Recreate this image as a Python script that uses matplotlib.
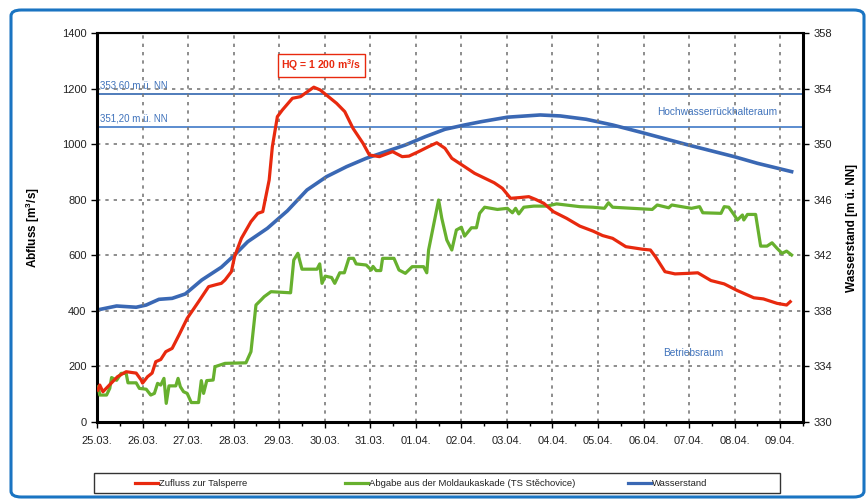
import numpy as np
import matplotlib
matplotlib.use("Agg")
import matplotlib.pyplot as plt
from matplotlib.patches import FancyBboxPatch, Rectangle
from matplotlib.lines import Line2D

plt.rcParams['font.family'] = ['Liberation Sans', 'DejaVu Sans']

#--- DATA (days after 25.03. 00:00) -------------------------------------------+

date_labels = ["25.03.", "26.03.", "27.03.", "28.03.", "29.03.", "30.03.",
               "31.03.", "01.04.", "02.04.", "03.04.", "04.04.", "05.04.",
               "06.04.", "07.04.", "08.04.", "09.04."]

zufluss_t = [0.02, 0.06, 0.13, 0.45, 0.64, 0.86, 0.97, 1.00, 1.11, 1.21, 1.29,
             1.40, 1.51, 1.65, 1.80, 1.98, 2.23, 2.45, 2.63, 2.73, 2.81, 2.95,
             3.02, 3.17, 3.38, 3.53, 3.64, 3.78, 3.85, 3.96, 4.07, 4.29, 4.47,
             4.57, 4.76, 4.90, 5.08, 5.26, 5.44, 5.62, 5.84, 5.98, 6.20, 6.49,
             6.70, 6.85, 7.06, 7.28, 7.46, 7.64, 7.79, 8.07, 8.29, 8.72, 8.90,
             9.08, 9.30, 9.48, 9.63, 9.81, 10.02, 10.31, 10.60, 10.89, 11.10,
             11.32, 11.61, 11.97, 12.15, 12.26, 12.47, 12.69, 12.98, 13.19,
             13.48, 13.77, 14.06, 14.42, 14.63, 14.93, 15.14, 15.22]
zufluss_q = [115, 133, 109, 163, 181, 176, 151, 140, 163, 176, 217,
             225, 253, 265, 313, 373, 433, 487, 495, 499, 511, 541,
             595, 661, 721, 751, 757, 871, 991, 1099, 1123, 1165, 1171,
             1183, 1205, 1195, 1171, 1147, 1117, 1057, 1003, 961, 955, 973,
             955, 957, 973, 991, 1005, 985, 949, 919, 895, 861, 841,
             805, 808, 811, 801, 787, 757, 733, 705, 687, 671,
             661, 631, 622, 619, 595, 541, 533, 535, 537,
             509, 497, 473, 447, 443, 427, 421, 433]

abgabe_t = [0.03, 0.06, 0.21, 0.28, 0.32, 0.43, 0.53, 0.64, 0.68, 0.86, 0.93,
            1.08, 1.18, 1.26, 1.33, 1.40, 1.47, 1.52, 1.58, 1.73, 1.78, 1.83,
            1.90, 1.98, 2.07, 2.23, 2.29, 2.34, 2.41, 2.55, 2.59, 2.81, 3.27,
            3.38, 3.49, 3.60, 3.67, 3.82, 4.25, 4.32, 4.41, 4.50, 4.83, 4.89,
            4.94, 5.01, 5.15, 5.22, 5.33, 5.43, 5.53, 5.63, 5.69, 5.91, 6.02,
            6.06, 6.13, 6.23, 6.27, 6.52, 6.63, 6.77, 6.92, 7.17, 7.24, 7.28,
            7.39, 7.50, 7.57, 7.68, 7.79, 7.89, 8.00, 8.07, 8.22, 8.33, 8.40,
            8.51, 8.79, 9.01, 9.12, 9.19, 9.26, 9.37, 9.59, 9.88, 10.09, 10.60,
            10.89, 11.14, 11.23, 11.32, 12.19, 12.30, 12.55, 12.62, 13.05,
            13.23, 13.30, 13.70, 13.77, 13.87, 13.99, 14.06, 14.17, 14.20,
            14.28, 14.46, 14.57, 14.71, 14.82, 14.93, 15.04, 15.14, 15.25]
abgabe_q = [127, 97, 97, 121, 160, 150, 175, 175, 141, 141, 121,
            118, 97, 103, 139, 133, 157, 67, 130, 130, 157, 127,
            109, 103, 70, 70, 149, 103, 149, 151, 199, 211, 213,
            253, 421, 439, 451, 469, 465, 583, 607, 550, 550, 569,
            499, 525, 520, 499, 537, 537, 589, 589, 569, 565, 547,
            560, 545, 545, 589, 589, 547, 535, 559, 559, 537, 619,
            709, 799, 733, 655, 619, 691, 701, 669, 699, 699, 751,
            773, 765, 769, 753, 769, 749, 773, 777, 777, 785, 775,
            773, 769, 789, 773, 765, 781, 771, 781, 769,
            775, 753, 751, 775, 773, 745, 727, 745, 727,
            747, 747, 633, 633, 645, 625, 607, 615, 601]

wasser_t = [0.0, 0.43, 0.86, 1.08, 1.36, 1.65, 1.94, 2.30, 2.73, 3.02, 3.31,
            3.74, 4.18, 4.61, 5.04, 5.48, 5.91, 6.34, 6.77, 7.21, 7.64, 8.07,
            8.44, 9.01, 9.73, 10.17, 10.74, 11.32, 11.97, 12.98, 13.99, 14.50,
            15.25]
wasser_h = [338.06, 338.35, 338.26, 338.42, 338.83, 338.90, 339.22, 340.22,
            341.14, 342.02, 342.98, 343.94, 345.20, 346.70, 347.66, 348.38,
            348.98, 349.46, 349.94, 350.54, 351.07, 351.38, 351.62, 351.94,
            352.10, 352.03, 351.79, 351.38, 350.83, 349.94, 349.10, 348.62,
            348.02]

stauziel_oben = 353.60
stauziel_unten = 351.20

#--- COLOURS ------------------------------------------------------------------+

c_red = '#e8290e'
c_green = '#67b02e'
c_blue = '#3a68b4'
c_text_blue = '#3f72bb'

#--- PLOT ---------------------------------------------------------------------+

fig = plt.figure(figsize=(8.66, 5.0), dpi=100)
ax = fig.add_axes([97/866, 78/500, 706/866, 389/500])
ax2 = ax.twinx()
ax.set_zorder(ax2.get_zorder() + 1)
ax.patch.set_visible(False)

ax.plot(zufluss_t, zufluss_q, color=c_red, lw=2.3, zorder=4)
ax.plot(abgabe_t, abgabe_q, color=c_green, lw=2.3, zorder=3)
ax2.plot(wasser_t, wasser_h, color=c_blue, lw=2.6, zorder=3)

ax2.axhline(stauziel_oben, color='#1f58a8', lw=1.1)
ax2.axhline(stauziel_unten, color='#5b8ccf', lw=1.4)
ax2.text(0.07, stauziel_oben + 0.25, '353,60 m ü. NN', color=c_text_blue,
         fontsize=7, va='bottom', ha='left')
ax2.text(0.07, stauziel_unten + 0.25, '351,20 m ü. NN', color=c_text_blue,
         fontsize=7, va='bottom', ha='left')
ax2.text(14.94, 352.3, 'Hochwasserrückhalteraum', color=c_text_blue,
         fontsize=7.3, va='center', ha='right')
ax2.text(13.1, 335.0, 'Betriebsraum', color=c_text_blue,
         fontsize=7.3, va='center', ha='center')

ax.text(4.93, 1283, 'HQ = 1 200 m$^\\mathregular{3}$/s', color=c_red,
        fontsize=7.5, fontweight='bold', ha='center', va='center',
        bbox=dict(boxstyle='square,pad=0.3', fc='white', ec=c_red, lw=1))

# limits last, so the twin's autoscale can not move them
ax.set_xlim(0, 15.28)
ax2.set_xlim(0, 15.28)
ax.set_ylim(0, 1400)
ax2.set_ylim(330, 358)

ax.set_xticks(np.arange(len(date_labels)))
ax.set_xticklabels(date_labels)
ax.set_xticks(np.arange(len(date_labels)) + 0.5, minor=True)
ax.set_yticks(np.arange(0, 1401, 200))
ax2.set_yticks(np.arange(330, 359, 4))

ax.grid(True, which='major', color='#7a7a7a', linestyle=(0, (2, 3)), lw=1.2)

for a in (ax, ax2):
    for s in a.spines.values():
        s.set_color('black')
ax.spines['left'].set_linewidth(2.2)
ax.spines['bottom'].set_linewidth(2.2)
ax.spines['top'].set_linewidth(1.5)
ax2.spines['right'].set_linewidth(2.2)

ax.tick_params(axis='both', which='major', labelsize=8, length=4, width=1,
               color='black', labelcolor='#222222')
ax.tick_params(axis='x', which='minor', length=3, width=1)
ax.tick_params(axis='x', pad=6)
ax2.tick_params(axis='y', labelsize=8, length=4, width=1, labelcolor='#222222')

ax.set_ylabel('Abfluss [m$^\\mathregular{3}$/s]', fontsize=8.5,
              fontweight='bold', labelpad=14)
ax2.set_ylabel('Wasserstand [m ü. NN]', fontsize=8.5, fontweight='bold',
               labelpad=10)

# outer frame
frame = FancyBboxPatch((11/866, 3/500), 853/866, 487/500,
                       boxstyle='round,pad=0,rounding_size=0.012',
                       transform=fig.transFigure, fc='none', ec='#1a74c2',
                       lw=2.2, zorder=0)
fig.add_artist(frame)

# legend box at the bottom
fig.add_artist(Rectangle((94/866, 7/500), 686/866, 20/500,
                         transform=fig.transFigure, fc='white', ec='#333333',
                         lw=1.0))
ly = 17/500
for x0, col, lab in [(135, c_red, 'Zufluss zur Talsperre'),
                     (345, c_green, 'Abgabe aus der Moldaukaskade (TS Stěchovice)'),
                     (628, c_blue, 'Wasserstand')]:
    fig.add_artist(Line2D([x0/866, (x0 + 23)/866], [ly, ly], color=col, lw=2.3,
                          transform=fig.transFigure))
    fig.text((x0 + 24)/866, ly, lab, fontsize=6.8, va='center', ha='left',
             color='#222222')

fig.savefig('out.png', dpi=100)
